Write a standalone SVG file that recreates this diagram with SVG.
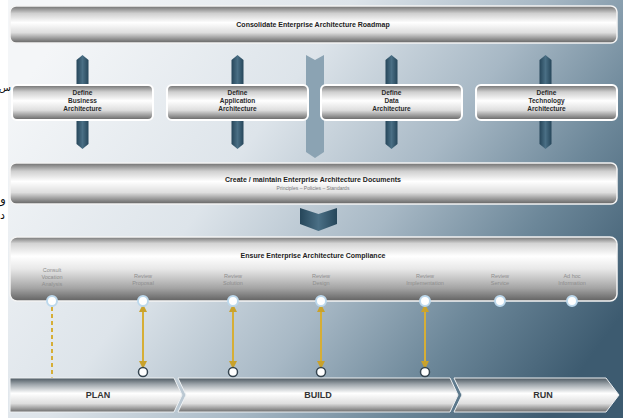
<svg xmlns="http://www.w3.org/2000/svg" width="623" height="418" viewBox="0 0 623 418">
<defs>
<linearGradient id="bg" x1="0" y1="0.25" x2="1" y2="0.75">
<stop offset="0" stop-color="#f4f6f8"/>
<stop offset="0.35" stop-color="#dde4ea"/>
<stop offset="0.6" stop-color="#a7b8c5"/>
<stop offset="0.8" stop-color="#6c8799"/>
<stop offset="1" stop-color="#3d5b70"/>
</linearGradient>
<linearGradient id="band" x1="0" y1="0" x2="0" y2="1">
<stop offset="0" stop-color="#6e6e6e"/>
<stop offset="0.2" stop-color="#cfcfcf"/>
<stop offset="0.45" stop-color="#ffffff"/>
<stop offset="0.72" stop-color="#dedede"/>
<stop offset="1" stop-color="#626262"/>
</linearGradient>
<linearGradient id="band3" x1="0" y1="0" x2="0" y2="1">
<stop offset="0" stop-color="#747474"/>
<stop offset="0.1" stop-color="#d4d4d4"/>
<stop offset="0.3" stop-color="#ffffff"/>
<stop offset="0.5" stop-color="#e8e8e8"/>
<stop offset="0.8" stop-color="#a4a4a4"/>
<stop offset="1" stop-color="#626262"/>
</linearGradient>
<linearGradient id="phase" x1="0" y1="0" x2="0" y2="1">
<stop offset="0" stop-color="#4c5861"/>
<stop offset="0.18" stop-color="#9ba3a9"/>
<stop offset="0.45" stop-color="#ffffff"/>
<stop offset="0.75" stop-color="#dedede"/>
<stop offset="1" stop-color="#6c6c6c"/>
</linearGradient>
<linearGradient id="arr" x1="0" y1="0" x2="1" y2="0">
<stop offset="0" stop-color="#26465a"/>
<stop offset="0.5" stop-color="#4a6f85"/>
<stop offset="1" stop-color="#26465a"/>
</linearGradient>
<marker id="ah" viewBox="0 0 6 6" refX="3" refY="3" markerWidth="4" markerHeight="4" orient="auto-start-reverse">
<path d="M0,0 L6,3 L0,6 Z" fill="#c9a22c"/>
</marker>
<style>
.band{fill:url(#band);stroke:#f4f4f4;stroke-width:1.5}
.box{fill:url(#band);stroke:#ffffff;stroke-width:2}
.ph{fill:url(#phase);stroke:#eef1f3;stroke-width:1}
.ttl{font-family:"Liberation Sans",Arial,sans-serif;font-weight:bold;font-size:7px;fill:#222;text-anchor:middle}
.bt{font-family:"Liberation Sans",Arial,sans-serif;font-weight:bold;font-size:6.5px;fill:#2a2a2a;text-anchor:middle}
.sub{font-family:"Liberation Sans",Arial,sans-serif;font-size:5px;fill:#7a7a7a;text-anchor:middle}
.lbl{font-family:"Liberation Sans",Arial,sans-serif;font-size:5.5px;fill:#8e8e8e;text-anchor:middle}
.phase{font-family:"Liberation Sans",Arial,sans-serif;font-weight:bold;font-size:9px;fill:#333;text-anchor:middle}
.arr{fill:url(#arr)}
.dot{fill:#ffffff;stroke:#bcd8ec;stroke-width:2}
.pin{fill:#ffffff;stroke:#34444f;stroke-width:1.5}
.gold{stroke:#d6ae36;stroke-width:2;fill:none}
.ar{font-family:"DejaVu Sans",sans-serif;fill:#111}
</style>
</defs>
<rect x="0" y="0" width="623" height="418" fill="#ffffff"/>
<rect x="8" y="0" width="615" height="418" fill="url(#bg)"/>
<text class="ar" x="11" y="91" font-size="10" text-anchor="end">س</text>
<text class="ar" x="0" y="203" font-size="12">و</text>
<text class="ar" x="0" y="219" font-size="11">د</text>

<g id="vstrip"><path d="M306,55 L315,60 L324,55 V152 L315,158 L306,152 Z" fill="#8ba3b3"/></g>

<g id="roadmap">
<rect class="band" x="10" y="6" width="607" height="37" rx="6"/>
<text class="ttl" x="313" y="27">Consolidate Enterprise Architecture Roadmap</text>
</g>

<g id="connectors">
<path class="arr" d="M76.5,86 V60 L82.5,55 L88.5,60 V86 Z"/>
<path class="arr" d="M231.5,86 V60 L237.5,55 L243.5,60 V86 Z"/>
<path class="arr" d="M385.5,86 V60 L391.5,55 L397.5,60 V86 Z"/>
<path class="arr" d="M539.5,86 V60 L545.5,55 L551.5,60 V86 Z"/>
<path class="arr" d="M76.5,118 V144 L82.5,149 L88.5,144 V118 Z"/>
<path class="arr" d="M231.5,118 V144 L237.5,149 L243.5,144 V118 Z"/>
<path class="arr" d="M385.5,118 V144 L391.5,149 L397.5,144 V118 Z"/>
<path class="arr" d="M539.5,118 V144 L545.5,149 L551.5,144 V118 Z"/>
<path class="arr" d="M300,208 L318.5,214 L337,208 V224 L318.5,231 L300,224 Z"/>
<line class="gold" x1="52" y1="307" x2="52" y2="396" stroke-dasharray="4,3"/>
<line class="gold" x1="143" y1="308" x2="143" y2="365" marker-start="url(#ah)" marker-end="url(#ah)"/>
<line class="gold" x1="233" y1="308" x2="233" y2="365" marker-start="url(#ah)" marker-end="url(#ah)"/>
<line class="gold" x1="321" y1="308" x2="321" y2="365" marker-start="url(#ah)" marker-end="url(#ah)"/>
<line class="gold" x1="425" y1="308" x2="425" y2="365" marker-start="url(#ah)" marker-end="url(#ah)"/>
</g>

<g id="business">
<rect class="box" x="12" y="85" width="141" height="35" rx="5"/>
<text class="bt" x="82.5" y="95">Define</text>
<text class="bt" x="82.5" y="103">Business</text>
<text class="bt" x="82.5" y="111">Architecture</text>
</g>
<g id="application">
<rect class="box" x="167" y="85" width="141" height="35" rx="5"/>
<text class="bt" x="237.5" y="95">Define</text>
<text class="bt" x="237.5" y="103">Application</text>
<text class="bt" x="237.5" y="111">Architecture</text>
</g>
<g id="data">
<rect class="box" x="321" y="85" width="141" height="35" rx="5"/>
<text class="bt" x="391.5" y="95">Define</text>
<text class="bt" x="391.5" y="103">Data</text>
<text class="bt" x="391.5" y="111">Architecture</text>
</g>
<g id="technology">
<rect class="box" x="476" y="85" width="141" height="35" rx="5"/>
<text class="bt" x="546.5" y="95">Define</text>
<text class="bt" x="546.5" y="103">Technology</text>
<text class="bt" x="546.5" y="111">Architecture</text>
</g>

<g id="documents">
<rect class="band" x="10" y="163" width="607" height="41" rx="6"/>
<text class="ttl" x="313" y="182">Create / maintain Enterprise Architecture Documents</text>
<text class="sub" x="313" y="190">Principles – Policies – Standards</text>
</g>

<g id="compliance">
<rect x="10" y="237" width="607" height="64" rx="7" fill="url(#band3)" stroke="#f4f4f4" stroke-width="1.5"/>
<text class="ttl" x="313" y="258">Ensure Enterprise Architecture Compliance</text>
<text class="lbl" x="52" y="272">Consult</text>
<text class="lbl" x="52" y="279">Vocation</text>
<text class="lbl" x="52" y="286">Analysis</text>
<text class="lbl" x="143" y="278">Review</text>
<text class="lbl" x="143" y="285">Proposal</text>
<text class="lbl" x="233" y="278">Review</text>
<text class="lbl" x="233" y="285">Solution</text>
<text class="lbl" x="321" y="278">Review</text>
<text class="lbl" x="321" y="285">Design</text>
<text class="lbl" x="425" y="278">Review</text>
<text class="lbl" x="425" y="285">Implementation</text>
<text class="lbl" x="500" y="278">Review</text>
<text class="lbl" x="500" y="285">Service</text>
<text class="lbl" x="572" y="278">Ad hoc</text>
<text class="lbl" x="572" y="285">Information</text>
<circle class="dot" cx="52" cy="301" r="5"/>
<circle class="dot" cx="143" cy="301" r="5"/>
<circle class="dot" cx="233" cy="301" r="5"/>
<circle class="dot" cx="321" cy="301" r="5"/>
<circle class="dot" cx="425" cy="301" r="5"/>
<circle class="dot" cx="500" cy="301" r="5"/>
<circle class="dot" cx="572" cy="301" r="5"/>
</g>

<g id="plan">
<path class="ph" d="M10,378 H174 L182,395 L174,412 H10 Z"/>
<text class="phase" x="98" y="398">PLAN</text>
</g>
<g id="build">
<path class="ph" d="M178,378 H450 L458,395 L450,412 H178 L186,395 Z"/>
<text class="phase" x="318" y="398">BUILD</text>
</g>
<g id="run">
<path class="ph" d="M454,378 H606 L619,395 L606,412 H454 L462,395 Z"/>
<text class="phase" x="543" y="398">RUN</text>
</g>
<g id="pins">
<circle class="pin" cx="143" cy="372" r="4.5"/>
<circle class="pin" cx="233" cy="372" r="4.5"/>
<circle class="pin" cx="321" cy="372" r="4.5"/>
<circle class="pin" cx="425" cy="372" r="4.5"/>
</g>
</svg>
